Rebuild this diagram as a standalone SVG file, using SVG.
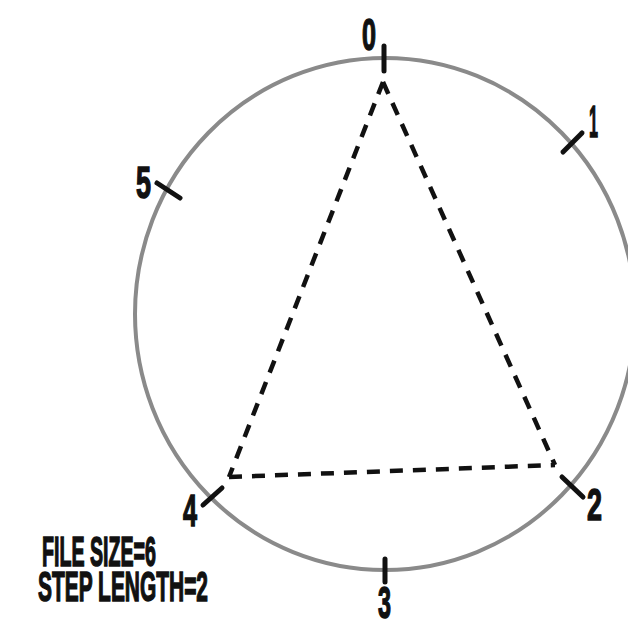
<svg xmlns="http://www.w3.org/2000/svg" width="628" height="624" viewBox="0 0 628 624">
<style>
.lbl{font-family:"Liberation Sans",Arial,sans-serif;font-weight:bold;font-size:44px;fill:#111;stroke:#111;stroke-width:1.5}
.cap{font-family:"Liberation Sans",Arial,sans-serif;font-weight:bold;font-size:42px;fill:#111;stroke:#111;stroke-width:1.5}
.tick{stroke:#111;stroke-width:5;stroke-linecap:round}
.edge{stroke:#111;stroke-width:4.5;stroke-dasharray:13 10;fill:none}
</style>
<rect width="628" height="624" fill="#fff"/>
<g id="circle">
<ellipse cx="385" cy="314" rx="250" ry="256" fill="none" stroke="#8a8a8a" stroke-width="4"/>
</g>
<g id="connectors">
<line class="edge" x1="383" y1="82" x2="229" y2="477"/>
<line class="edge" x1="383" y1="82" x2="555" y2="465"/>
<line class="edge" x1="229" y1="477" x2="555" y2="465"/>
</g>
<g id="node0"><line class="tick" x1="384" y1="46" x2="384" y2="71"/><text class="lbl" x="362" y="50" textLength="14" lengthAdjust="spacingAndGlyphs">0</text></g>
<g id="node1"><line class="tick" x1="563" y1="152" x2="582" y2="133"/><text class="lbl" x="589" y="137" textLength="9" lengthAdjust="spacingAndGlyphs">1</text></g>
<g id="node2"><line class="tick" x1="562" y1="477" x2="583" y2="497"/><text class="lbl" x="587" y="520" textLength="15" lengthAdjust="spacingAndGlyphs">2</text></g>
<g id="node3"><line class="tick" x1="385" y1="559" x2="385" y2="582"/><text class="lbl" x="378" y="618" textLength="13" lengthAdjust="spacingAndGlyphs">3</text></g>
<g id="node4"><line class="tick" x1="203" y1="505" x2="222" y2="488"/><text class="lbl" x="183" y="526" textLength="14" lengthAdjust="spacingAndGlyphs">4</text></g>
<g id="node5"><line class="tick" x1="157" y1="183" x2="180" y2="198"/><text class="lbl" x="136" y="198" textLength="15" lengthAdjust="spacingAndGlyphs">5</text></g>
<g id="caption">
<text class="cap" x="42" y="566" textLength="114" lengthAdjust="spacingAndGlyphs">FILE SIZE=6</text>
<text class="cap" x="38" y="601" textLength="170" lengthAdjust="spacingAndGlyphs">STEP LENGTH=2</text>
</g>
</svg>
